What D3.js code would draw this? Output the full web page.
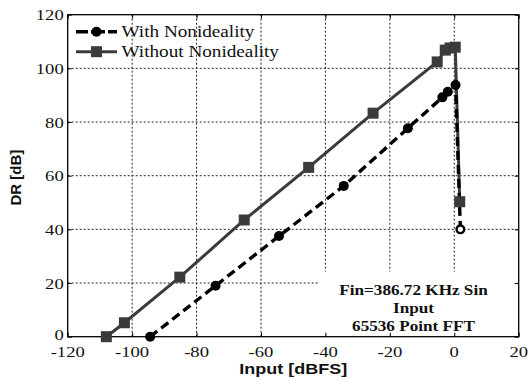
<!DOCTYPE html>
<html>
<head>
<meta charset="utf-8">
<script src="https://cdn.jsdelivr.net/npm/d3@7"></script>
<style>
  html, body { margin: 0; padding: 0; background: #fff; }
  svg { display: block; }
</style>
</head>
<body>
<div id="chart"></div>
<script>
// values
const inputWith = [-94.4, -74.1, -54.4, -34.3, -14.4, -3.7, -2.0, 0.4, 1.9];
const drWith = [0, 19.0, 37.5, 56.2, 77.7, 89.2, 91.3, 93.8, 40.0];

const inputWithout = [-108, -102.4, -85.2, -65.2, -45.2, -25.2, -5.3, -2.8, -1.3, 0.3, 1.7];
const drWithout = [0, 5.2, 22.2, 43.5, 63.1, 83.3, 102.4, 106.8, 107.6, 107.9, 50.3];

const xTicks = [-120, -100, -80, -60, -40, -20, 0, 20];
const yTicks = [0, 20, 40, 60, 80, 100, 120];
const legendLabels = ["With Nonideality", "Without Nonideality"];
const noteLines = ["Fin=386.72 KHz Sin", "Input", "65536 Point FFT"];

const W = 528, H = 381;
const margin = { top: 14.7, right: 9.3, bottom: 44.3, left: 67.7 };
const width = W - margin.left - margin.right,
      height = H - margin.top - margin.bottom;
const stretch = 1.2; // the reference text is drawn wider than tall

const svg = d3.select("#chart").append("svg")
    .attr("width", W)
    .attr("height", H);

const g = svg.append("g")
    .attr("transform", `translate(${margin.left},${margin.top})`);

const x = d3.scaleLinear().domain([-120, 20]).range([0, width]);
const y = d3.scaleLinear().domain([0, 120]).range([height, 0]);

// helper for horizontally stretched text
function label(parent, px, py, txt, opts) {
    return parent.append("text")
        .attr("transform", `translate(${px},${py}) scale(${stretch},1)`)
        .attr("text-anchor", opts.anchor || "middle")
        .style("font-family", opts.family || "'Liberation Serif', 'Times New Roman', serif")
        .style("font-size", opts.size + "px")
        .style("font-weight", opts.weight || "normal")
        .attr("fill", "#111")
        .text(txt);
}

// grid
const grid = g.append("g").attr("class", "grid");
grid.selectAll(".vgrid")
    .data(xTicks.filter(d => d > -120 && d < 20))
    .enter().append("line")
    .attr("x1", d => x(d)).attr("x2", d => x(d))
    .attr("y1", 0).attr("y2", height)
    .attr("stroke", "#222").attr("stroke-width", 1)
    .attr("stroke-dasharray", "2,2");
grid.selectAll(".hgrid")
    .data(yTicks.filter(d => d > 0 && d < 120))
    .enter().append("line")
    .attr("x1", 0).attr("x2", width)
    .attr("y1", d => y(d)).attr("y2", d => y(d))
    .attr("stroke", "#222").attr("stroke-width", 1)
    .attr("stroke-dasharray", "2,2");

// annotation box covers grid
g.append("rect")
    .attr("x", x(-42.3)).attr("y", y(24.3))
    .attr("width", x(20) - x(-42.3) - 1).attr("height", y(0) - y(24.3) - 1)
    .attr("fill", "#fff");

// axes (inward ticks)
const xAxis = d3.axisBottom(x).tickValues(xTicks).tickSize(-4).tickFormat("");
const yAxis = d3.axisLeft(y).tickValues(yTicks).tickSize(-4).tickFormat("");
g.append("g").attr("transform", `translate(0,${height})`).call(xAxis)
    .call(s => s.select(".domain").remove());
g.append("g").call(yAxis).call(s => s.select(".domain").remove());
g.append("g").attr("transform", `translate(${width},0)`)
    .call(d3.axisRight(y).tickValues(yTicks).tickSize(-4).tickFormat(""))
    .call(s => s.select(".domain").remove());
g.append("g")
    .call(d3.axisTop(x).tickValues(xTicks).tickSize(-4).tickFormat(""))
    .call(s => s.select(".domain").remove());
g.selectAll(".tick line").attr("stroke", "#000");

g.append("rect")
    .attr("x", 0).attr("y", 0).attr("width", width).attr("height", height)
    .attr("fill", "none").attr("stroke", "#000").attr("stroke-width", 1.3);

// tick labels
xTicks.forEach(t => label(g, x(t), height + 20, t, { size: 15.5 }));
yTicks.forEach(t => label(g, -4, y(t) + (t === 0 ? 3.5 : 5.5), t, { size: 15.5, anchor: "end" }));

// axis titles
label(svg, margin.left + width / 2, 374, "Input [dBFS]",
    { size: 15, weight: "bold", family: "'Liberation Sans', Arial, sans-serif" });
svg.append("text")
    .attr("transform", `translate(21,${margin.top + height / 2 + 2}) rotate(-90)`)
    .attr("text-anchor", "middle")
    .style("font-family", "'Liberation Sans', Arial, sans-serif")
    .style("font-size", "15px")
    .style("font-weight", "bold")
    .attr("fill", "#111")
    .text("DR [dB]");

// series
const withData = inputWith.map((v, i) => [v, drWith[i]]);
const withoutData = inputWithout.map((v, i) => [v, drWithout[i]]);
const line = d3.line().x(d => x(d[0])).y(d => y(d[1]));

g.append("path")
    .datum(withoutData)
    .attr("d", line)
    .attr("fill", "none")
    .attr("stroke", "#3b3b3b")
    .attr("stroke-width", 3);

g.append("path")
    .datum(withData)
    .attr("d", line)
    .attr("fill", "none")
    .attr("stroke", "#000")
    .attr("stroke-width", 3.4)
    .attr("stroke-dasharray", "9,5");

g.selectAll(".sq")
    .data(withoutData)
    .enter().append("rect")
    .attr("class", "sq")
    .attr("x", d => x(d[0]) - 5.5).attr("y", d => y(d[1]) - 5.5)
    .attr("width", 11).attr("height", 11)
    .attr("fill", "#3b3b3b");

g.selectAll(".dot")
    .data(withData)
    .enter().append("circle")
    .attr("class", "dot")
    .attr("cx", d => x(d[0])).attr("cy", d => y(d[1]))
    .attr("r", (d, i) => i === withData.length - 1 ? 3.8 : 5)
    .attr("fill", (d, i) => i === withData.length - 1 ? "#fff" : "#000")
    .attr("stroke", "#000")
    .attr("stroke-width", (d, i) => i === withData.length - 1 ? 2.4 : 0);

// legend
const legend = svg.append("g");
const ly = [31.7, 51.7];
legend.append("line")
    .attr("x1", 76).attr("x2", 117).attr("y1", ly[0]).attr("y2", ly[0])
    .attr("stroke", "#000").attr("stroke-width", 3.4)
    .attr("stroke-dasharray", "12,3,14,3,12");
legend.append("circle")
    .attr("cx", 96.5).attr("cy", ly[0]).attr("r", 5).attr("fill", "#000");
legend.append("line")
    .attr("x1", 76).attr("x2", 117).attr("y1", ly[1]).attr("y2", ly[1])
    .attr("stroke", "#3b3b3b").attr("stroke-width", 3);
legend.append("rect")
    .attr("x", 91).attr("y", ly[1] - 5.5).attr("width", 11).attr("height", 11)
    .attr("fill", "#3b3b3b");
legendLabels.forEach((t, i) =>
    label(legend, 121.5, ly[i] + 5.5, t, { size: 16, anchor: "start" }));

// annotation text
noteLines.forEach((t, i) =>
    label(svg, 413.5, 295 + i * 18, t, { size: 14.3, weight: "bold" }));
</script>
</body>
</html>
